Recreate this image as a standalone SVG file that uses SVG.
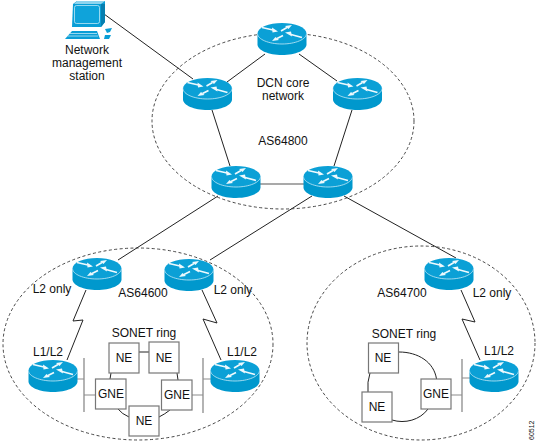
<svg xmlns="http://www.w3.org/2000/svg" width="537" height="443" viewBox="0 0 537 443">
<style>
text{font-family:"Liberation Sans",Arial,sans-serif;font-size:12px;fill:#111;text-anchor:middle}
.l{fill:none;stroke:#222;stroke-width:1}
.g{fill:none;stroke:#8c8c8c;stroke-width:1.2}
.bar{fill:none;stroke:#8c8c8c;stroke-width:1.3}
.cl{fill:none;stroke:#333;stroke-width:.9;stroke-dasharray:3 2.4}
.b{fill:#fff;stroke:#777;stroke-width:1.2}
</style>
<defs>
<g id="router">
<path d="M-24.500 -5.500V5.500C-24.500 11.300-13.500 16-0 16S24.500 11.300 24.500 5.500V-5.500Z" fill="#0098cd"/>
<ellipse cx="0" cy="-5.500" rx="24.500" ry="10.500" fill="#0ba0d6"/>
<path d="M-24.500 -5.500C-24.500 .3-13.500 5 0 5S24.500 .3 24.500 -5.500" fill="none" stroke="#c4e8f6" stroke-width=".8"/>
<g transform="translate(0,-5.500)">
<path d="M-20 -6L-9 -3.500M20 4L9 1M-1 -2.500L5 -6M1 2L-5 5" stroke="#eef9fd" stroke-width="1.7" fill="none"/>
<path d="M-4 -2L-10 -6L-9.500 -1ZM3 -1L9 -2L10 3ZM10 -8.500L3 -7.500L6.500 -4.500ZM-10 7.500L-6.500 3.500L-3 6.500Z" fill="#eef9fd"/>
</g>
</g>
</defs>
<g id="connectors">
<path class="l" d="M104 14L193 79M265 54L227 82M299 54L337 81M212 110L230 166M352 110L334 166"/>
<path class="l" d="M260 184H304" style="stroke:#555;stroke-width:1.2"/>
<path class="l" d="M218 196L118 260M312 196L210 260M344 196L456 258"/>
<path class="l" d="M86 290L73 321L83 320L67 360M202 290L217 323L203 319L221 360M461 290L475 322L462 319L480 360"/>
<path class="g" d="M77 379H84M84 395H95M192 395H203M203 379H211M451 395H462M462 378H470"/>
<path class="bar" d="M84 358V412M203 358V413M462 359V412"/>
<path class="l" d="M138 352H149M111 373L110 379M177 373L178 380M118 409Q122 414 129 417M170 410Q165 414 159 417"/>
<path class="l" d="M399 352C418 352 434 362 436.500 379M370 373Q367 382 368 392M392 420C405 424 420 420 428 409"/>
</g>
<g id="clouds">
<ellipse class="cl" cx="283" cy="121" rx="131" ry="88"/>
<ellipse class="cl" cx="138" cy="344" rx="135" ry="96"/>
<ellipse class="cl" cx="421" cy="343" rx="114" ry="97"/>
</g>
<g id="station">
<path d="M73 4L77 1H105V22L101 27H72Z" fill="#0a9ed6"/>
<path d="M77 1H105L101 4H74Z" fill="#8ed4ee"/>
<path d="M101 4H105V22L101 27Z" fill="#067fb0"/>
<rect x="74.500" y="5.500" width="25" height="18" rx="2" fill="#0fa3da" stroke="#d5f0fa" stroke-width=".7"/>
<path d="M72 31H97L100 39H65Z" fill="#0a9ed6"/>
<path d="M69.500 33.500H97M67.500 36H98" stroke="#d5f0fa" stroke-width=".7" fill="none"/>
<path d="M105 29L112 28L110 32L107 33ZM105 35H111L109 39H104Z" fill="#0a9ed6"/>
<text x="87" y="54">Network</text>
<text x="87" y="67">management</text>
<text x="87" y="80">station</text>
</g>
<g id="r1"><use href="#router" x="282" y="39"/></g>
<g id="r2"><use href="#router" x="207.500" y="94"/></g>
<g id="r3"><use href="#router" x="357.500" y="94"/></g>
<g id="r4"><use href="#router" x="236" y="182"/></g>
<g id="r5"><use href="#router" x="328" y="182"/></g>
<g id="r6"><use href="#router" x="97" y="274"/></g>
<g id="r7"><use href="#router" x="189" y="275"/></g>
<g id="r8"><use href="#router" x="53" y="376"/></g>
<g id="r9"><use href="#router" x="235" y="376"/></g>
<g id="r10"><use href="#router" x="449" y="274"/></g>
<g id="r11"><use href="#router" x="494" y="376"/></g>
<g id="ne1"><rect class="b" x="109" y="343" width="30" height="30"/><text x="124" y="362">NE</text></g>
<g id="ne2"><rect class="b" x="149" y="342" width="30" height="31"/><text x="164" y="362">NE</text></g>
<g id="gne1"><rect class="b" x="95.500" y="379" width="30.500" height="30"/><text x="111" y="398">GNE</text></g>
<g id="gne2"><rect class="b" x="161.500" y="380" width="30.500" height="30"/><text x="177" y="399">GNE</text></g>
<g id="ne3"><rect class="b" x="129" y="406" width="30" height="30"/><text x="144" y="425">NE</text></g>
<g id="ne4"><rect class="b" x="368.500" y="343" width="30" height="30"/><text x="383" y="362">NE</text></g>
<g id="ne5"><rect class="b" x="362" y="392" width="30" height="30"/><text x="377" y="411">NE</text></g>
<g id="gne3"><rect class="b" x="421" y="379" width="30" height="30"/><text x="436" y="398">GNE</text></g>
<g id="labels">
<text x="283" y="87">DCN core</text>
<text x="283" y="100">network</text>
<text x="283" y="145">AS64800</text>
<text x="52" y="293">L2 only</text>
<text x="143" y="297">AS64600</text>
<text x="233" y="294">L2 only</text>
<text x="144" y="337">SONET ring</text>
<text x="48" y="356">L1/L2</text>
<text x="242" y="356">L1/L2</text>
<text x="402" y="297">AS64700</text>
<text x="492" y="297">L2 only</text>
<text x="404" y="338">SONET ring</text>
<text x="499" y="355">L1/L2</text>
<text transform="translate(534,440) rotate(-90)" style="font-size:7px;text-anchor:start">60512</text>
</g>
</svg>
